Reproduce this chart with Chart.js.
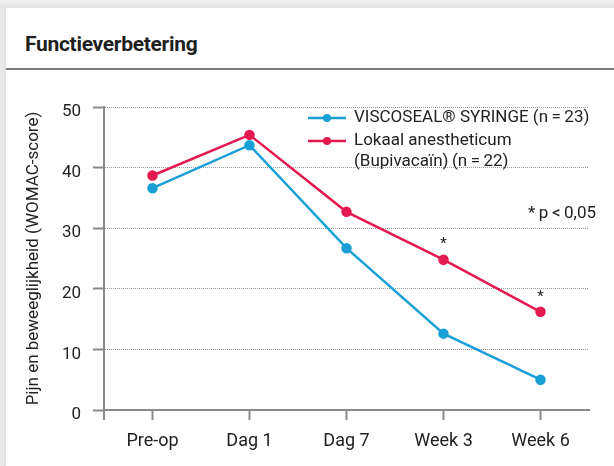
<!DOCTYPE html>
<html>
<head>
<meta charset="utf-8">
<script src="https://cdn.jsdelivr.net/npm/chart.js@4.4.1/dist/chart.umd.min.js"></script>
<style>
html,body{margin:0;padding:0;width:100%;height:100%;overflow:hidden;background:#fff;font-family:Roboto,sans-serif;}
#rand-links{position:absolute;left:0;top:0;width:6px;bottom:0;background:linear-gradient(to right,#ececec,#e2e2e2);}
#rand-boven{position:absolute;left:0;top:0;right:0;height:8px;background:linear-gradient(to bottom,#efefef,#e3e3e3);}
#titel{position:absolute;left:25px;top:32px;font-size:21px;font-weight:700;color:#1f1f1f;letter-spacing:-0.3px;}
#lijn{position:absolute;left:6px;top:68px;right:0;height:2px;background:#7b7b7b;}
#grafiek{position:absolute;left:0;top:0;}
</style>
</head>
<body>
<div id="rand-links"></div>
<div id="rand-boven"></div>
<div id="titel">Functieverbetering</div>
<div id="lijn"></div>
<canvas id="grafiek" width="614" height="466"></canvas>
<script>
// data
const momenten=['Pre-op','Dag 1','Dag 7','Week 3','Week 6'];
const viscoseal=[36.6,43.7,26.7,12.6,5.0];
const lokaal=[38.7,45.4,32.7,24.8,16.2];
const significant=['','','','*','*'];
const yTicks=[0,10,20,30,40,50];
const reeksNamen=[['VISCOSEAL® SYRINGE (n\u2009=\u200923)'],['Lokaal anestheticum','(Bupivacaïn)\u2009(n\u2009=\u200922)']];
const blauw='#1aa0d6', rood='#e3194f', tekst='#222', as='#8a8a8a';

// legenda, sterretjes en stukje as
const extras={
  id:'extras',
  afterDatasetsDraw(chart){
    const ctx=chart.ctx, a=chart.chartArea;
    ctx.save();
    ctx.strokeStyle=as; ctx.lineWidth=2;
    ctx.beginPath(); ctx.moveTo(a.left,a.bottom); ctx.lineTo(a.left,a.bottom+10); ctx.stroke();

    ctx.fillStyle=tekst; ctx.font='15px Roboto'; ctx.textAlign='center'; ctx.textBaseline='middle';
    chart.getDatasetMeta(1).data.forEach((pt,i)=>{ if(significant[i]) ctx.fillText(significant[i],pt.x,pt.y-15); });

    ctx.font='17px Roboto'; ctx.textAlign='right';
    ctx.fillText('*\u2009p\u2009<\u20090,05',596,214);

    ctx.textAlign='left';
    const rijen=[118,141];
    chart.data.datasets.forEach((ds,i)=>{
      const y=rijen[i];
      ctx.strokeStyle=ds.borderColor; ctx.lineWidth=2.5;
      ctx.beginPath(); ctx.moveTo(308,y); ctx.lineTo(346,y); ctx.stroke();
      ctx.fillStyle=ds.borderColor;
      ctx.beginPath(); ctx.arc(327,y,4,0,Math.PI*2); ctx.fill();
      ctx.fillStyle=tekst;
      reeksNamen[i].forEach((r,j)=>ctx.fillText(r,354,y+j*21));
    });
    ctx.restore();
  }
};

new Chart(document.getElementById('grafiek'),{
  type:'line',
  data:{
    labels:momenten,
    datasets:[
      {label:reeksNamen[0].join(' '),data:viscoseal,borderColor:blauw,backgroundColor:blauw,borderWidth:2.5,pointRadius:4,pointHoverRadius:4,tension:0},
      {label:reeksNamen[1].join(' '),data:lokaal,borderColor:rood,backgroundColor:rood,borderWidth:2.5,pointRadius:4,pointHoverRadius:4,tension:0}
    ]
  },
  options:{
    responsive:false,
    animation:false,
    layout:{padding:{left:0,top:107,right:25,bottom:0}},
    plugins:{legend:{display:false},tooltip:{enabled:false}},
    scales:{
      x:{
        offset:true,
        afterFit:s=>{s.height=56;},
        grid:{drawOnChartArea:false,tickLength:10,tickColor:as,tickWidth:2},
        border:{color:as,width:2},
        ticks:{color:tekst,font:{family:'Roboto',size:18},padding:11}
      },
      y:{
        min:0,max:50,
        afterFit:s=>{s.width=104;},
        afterBuildTicks:s=>{s.ticks=yTicks.map(v=>({value:v}));},
        grid:{color:'#9a9a9a',lineWidth:1,tickLength:11,tickColor:as,tickWidth:2},
        border:{color:as,width:2,dash:[1,1]},
        ticks:{color:tekst,font:{family:'Roboto',size:17},padding:12,labelOffset:5},
        title:{display:true,text:'Pijn en beweeglijkheid (WOMAC-score)',color:tekst,font:{family:'Roboto',size:17},padding:{top:24}}
      }
    }
  },
  plugins:[extras]
});
</script>
</body>
</html>
